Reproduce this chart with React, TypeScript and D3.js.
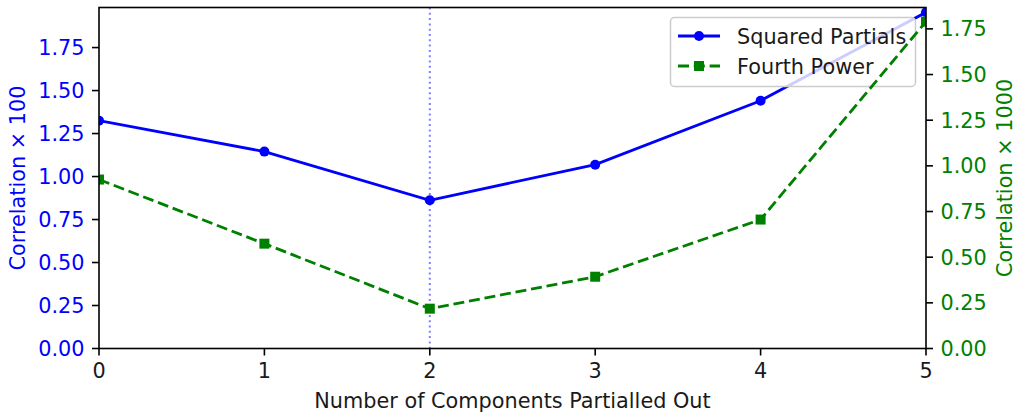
import React from "react";
import * as d3 from "d3";

const components = [0, 1, 2, 3, 4, 5];
const squaredPartials = [1.325, 1.145, 0.862, 1.069, 1.441, 1.955];
const fourthPower = [0.925, 0.574, 0.218, 0.393, 0.706, 1.79];
const leftTicks = [0, 0.25, 0.5, 0.75, 1.0, 1.25, 1.5, 1.75];
const rightTicks = [0, 0.25, 0.5, 0.75, 1.0, 1.25, 1.5, 1.75];
const highlightX = 2;

const W = 1016, H = 415;
const L = 99, R = 926, T = 7.5, B = 348.5;
const font = "DejaVu Sans, sans-serif";
const FS = 20.8;

export default function App() {
  const x = d3.scaleLinear().domain([0, 5]).range([L, R]);
  const yL = d3.scaleLinear().domain([0, 1.983]).range([B, T]);
  const yR = d3.scaleLinear().domain([0, 1.867]).range([B, T]);
  const lineL = d3.line<number>().x((_, i) => x(components[i])).y((d) => yL(d));
  const lineR = d3.line<number>().x((_, i) => x(components[i])).y((d) => yR(d));
  return (
    <svg width={W} height={H} style={{ position: "absolute", left: 0, top: 0 }} fontFamily={font}>
      <defs>
        <clipPath id="plot">
          <rect x={L} y={T} width={R - L} height={B - T} />
        </clipPath>
      </defs>
      <rect width={W} height={H} fill="white" />
      <g clipPath="url(#plot)">
        <path d={lineL(squaredPartials) || ""} fill="none" stroke="#0000ff" strokeWidth={2.8} />
        {squaredPartials.map((d, i) => (
          <circle key={i} cx={x(components[i])} cy={yL(d)} r={5} fill="#0000ff" />
        ))}
        <line x1={x(highlightX)} x2={x(highlightX)} y1={T} y2={B} stroke="#0000ff" strokeOpacity={0.5} strokeWidth={2} strokeDasharray="2,3.3" />
      </g>
      {/* legend */}
      <rect x={670.5} y={17.5} width={245} height={69} rx={4} fill="white" fillOpacity={0.8} stroke="#cccccc" strokeWidth={1.5} />
      <line x1={678} x2={720} y1={36} y2={36} stroke="#0000ff" strokeWidth={2.8} />
      <circle cx={699} cy={36} r={5} fill="#0000ff" />
      <text x={737} y={44} fontSize={FS} fill="#1a1a1a">Squared Partials</text>
      <line x1={678} x2={720} y1={66} y2={66} stroke="#008000" strokeWidth={2.8} strokeDasharray="11,4.8" />
      <rect x={694} y={61} width={10} height={10} fill="#008000" />
      <text x={737} y={74} fontSize={FS} fill="#1a1a1a">Fourth Power</text>
      <g clipPath="url(#plot)">
        <path d={lineR(fourthPower) || ""} fill="none" stroke="#008000" strokeWidth={2.8} strokeDasharray="11,4.8" />
        {fourthPower.map((d, i) => (
          <rect key={i} x={x(components[i]) - 5} y={yR(d) - 5} width={10} height={10} fill="#008000" />
        ))}
      </g>
      {/* axes frame */}
      <rect x={L} y={T} width={R - L} height={B - T} fill="none" stroke="black" strokeWidth={1.6} />
      {components.map((c) => (
        <g key={c}>
          <line x1={x(c)} x2={x(c)} y1={B} y2={B + 7} stroke="black" strokeWidth={1.6} />
          <text x={x(c)} y={378} fontSize={FS} textAnchor="middle" fill="#1a1a1a">{c}</text>
        </g>
      ))}
      {leftTicks.map((t) => (
        <g key={t}>
          <line x1={L - 7} x2={L} y1={yL(t)} y2={yL(t)} stroke="black" strokeWidth={1.6} />
          <text x={L - 14.5} y={yL(t) + 7.5} fontSize={FS} textAnchor="end" fill="#0000ff">{t.toFixed(2)}</text>
        </g>
      ))}
      {rightTicks.map((t) => (
        <g key={t}>
          <line x1={R} x2={R + 7} y1={yR(t)} y2={yR(t)} stroke="black" strokeWidth={1.6} />
          <text x={R + 14.5} y={yR(t) + 7.5} fontSize={FS} textAnchor="start" fill="#008000">{t.toFixed(2)}</text>
        </g>
      ))}
      <text x={(L + R) / 2} y={408} fontSize={FS} textAnchor="middle" fill="#1a1a1a">Number of Components Partialled Out</text>
      <text transform={`translate(24.5,${(T + B) / 2}) rotate(-90)`} fontSize={FS} textAnchor="middle" fill="#0000ff">Correlation × 100</text>
      <text transform={`translate(1011.5,${(T + B) / 2}) rotate(-90)`} fontSize={FS} textAnchor="middle" fill="#008000">Correlation × 1000</text>
    </svg>
  );
}
